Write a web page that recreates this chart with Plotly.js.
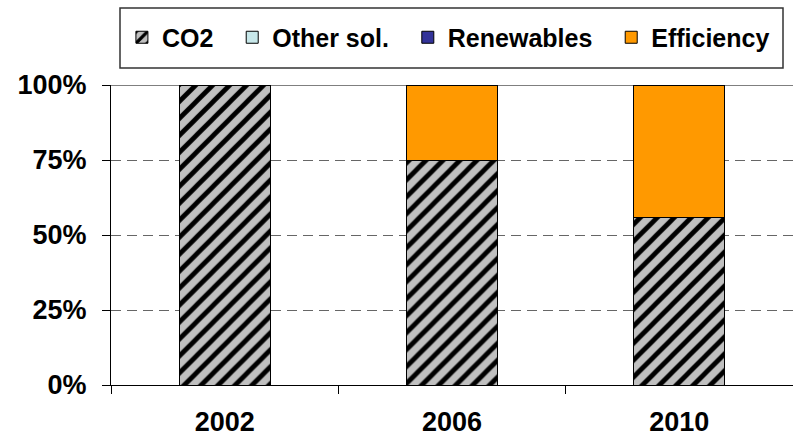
<!DOCTYPE html>
<html>
<head>
<meta charset="utf-8">
<script src="https://cdn.plot.ly/plotly-3.0.1.min.js"></script>
<style>html,body{margin:0;padding:0;background:#fff;}#chart{width:793px;height:442px;}</style>
</head>
<body>
<div id="chart"></div>
<script>
const years = ['2002', '2006', '2010'];
const seriesNames = ['CO2', 'Other sol.', 'Renewables', 'Efficiency'];
const co2 = [1.00, 0.75, 0.56];
const otherSol = [0, 0, 0];
const renewables = [0, 0, 0];
const efficiency = [0, 0.25, 0.44];
const yTickValues = [0, 0.25, 0.5, 0.75, 1];

const FONT = "'Liberation Sans', Arial, sans-serif";
const line = {color: '#000', width: 1};
const PAD = '\u00a0\u00a0';

const traces = [
  {name: seriesNames[0] + PAD, y: co2, marker: {color: '#c0c0c0', line: line,
    pattern: {shape: '/', bgcolor: '#c0c0c0', fgcolor: '#000', fgopacity: 1, size: 12, solidity: 0.4, fillmode: 'overlay'}}},
  {name: seriesNames[1] + PAD, y: otherSol, marker: {color: '#c8e8ea', line: line}},
  {name: seriesNames[2] + PAD, y: renewables, marker: {color: '#333399', line: line}},
  {name: seriesNames[3], y: efficiency, marker: {color: '#ff9900', line: line}}
].map(t => Object.assign({type: 'bar', x: years, hoverinfo: 'skip'}, t));

const layout = {
  width: 793, height: 442,
  margin: {l: 111, r: 0, t: 85, b: 57},
  paper_bgcolor: '#fff', plot_bgcolor: '#fff',
  barmode: 'stack', bargap: 0.6,
  font: {family: FONT, size: 26, color: '#000', weight: 'bold'},
  showlegend: true,
  legend: {orientation: 'h', x: 0.016, xanchor: 'left', y: 1.235, yanchor: 'top',
    font: {family: FONT, size: 25, color: '#000', weight: 'bold'},
    bgcolor: 'rgba(0,0,0,0)', borderwidth: 0, traceorder: 'normal'},
  xaxis: {type: 'category', showline: true, linecolor: '#000', linewidth: 1,
    ticks: 'outside', tickson: 'boundaries', ticklen: 8, tickcolor: '#000',
    showgrid: false, ticklabelstandoff: 13,
    tickfont: {family: FONT, size: 27, weight: 'bold'}},
  yaxis: {range: [0, 1], tickvals: yTickValues, tickformat: '.0%',
    showline: true, linecolor: '#000', linewidth: 1,
    ticks: 'outside', ticklen: 8, tickcolor: '#000',
    showgrid: true, gridcolor: '#666', gridwidth: 1, griddash: '10px,6px',
    zeroline: false, ticklabelstandoff: 10,
    tickfont: {family: FONT, size: 27, weight: 'bold'}},
  shapes: [
    {type: 'line', xref: 'paper', yref: 'y', x0: 0, x1: 1, y0: 1, y1: 1,
      line: {color: '#000', width: 1}, layer: 'below'},
    {type: 'rect', xref: 'paper', yref: 'paper',
      x0: 9 / 682, x1: 672 / 682, y0: (385 - 68) / 300, y1: (385 - 8) / 300,
      line: {color: '#333', width: 1.5}, fillcolor: 'rgba(0,0,0,0)', layer: 'above'}]
};

Plotly.newPlot('chart', traces, layout, {staticPlot: true, displayModeBar: false});
</script>
</body>
</html>
